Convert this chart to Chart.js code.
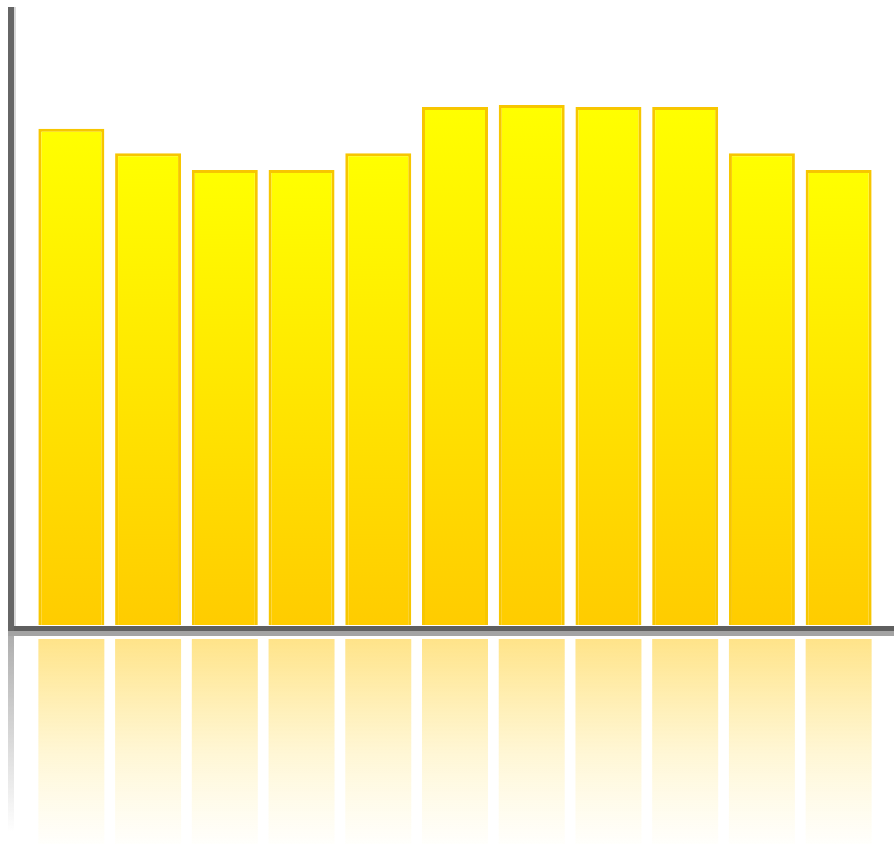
<!DOCTYPE html>
<html>
<head>
<meta charset="utf-8">
<script src="https://cdn.jsdelivr.net/npm/chart.js@4/dist/chart.umd.min.js"></script>
<style>
  html, body { margin: 0; padding: 0; background: #fff; }
  #wrap { width: 894px; height: 844px; }
</style>
</head>
<body>
<div id="wrap"><canvas id="barChart" width="894" height="844"></canvas></div>
<script>
const labels = ['1', '2', '3', '4', '5', '6', '7', '8', '9', '10', '11'];
const values = [79.4, 75.5, 72.8, 72.8, 75.5, 82.9, 83.2, 82.9, 82.9, 75.5, 72.8];
const yMin = 0;
const yMax = 100;

// yellow fill, bright at the top of each bar, gold at the base
function barFill(context) {
  const chart = context.chart;
  const area = chart.chartArea;
  if (!area || context.parsed === undefined) return '#ffe000';
  const top = chart.scales.y.getPixelForValue(context.parsed.y);
  const g = chart.ctx.createLinearGradient(0, top, 0, area.bottom);
  g.addColorStop(0, '#ffff00');
  g.addColorStop(1, '#ffcc00');
  return g;
}

// axis lines plus the mirrored fade under the baseline
const floorPlugin = {
  id: 'floor',
  beforeDatasetsDraw(chart) {
    const ctx = chart.ctx;
    const area = chart.chartArea;
    const axisX = 8;
    const base = area.bottom;
    ctx.save();
    // y axis reflection
    let g = ctx.createLinearGradient(0, base + 11, 0, chart.height - 12);
    g.addColorStop(0, 'rgba(120,120,120,0.6)');
    g.addColorStop(1, 'rgba(120,120,120,0)');
    ctx.fillStyle = g;
    ctx.fillRect(axisX, base + 11, 6, chart.height - base - 23);
    ctx.restore();
  },
  afterDatasetsDraw(chart) {
    const ctx = chart.ctx;
    const area = chart.chartArea;
    const base = area.bottom;
    const axisX = 8;
    ctx.save();
    // reflected bars
    const meta = chart.getDatasetMeta(0);
    meta.data.forEach(bar => {
      const p = bar.getProps(['x', 'width'], true);
      const top = base + 14;
      const g = ctx.createLinearGradient(0, top, 0, chart.height);
      g.addColorStop(0, 'rgba(255,205,40,0.55)');
      g.addColorStop(0.55, 'rgba(255,215,60,0.22)');
      g.addColorStop(1, 'rgba(255,225,80,0.02)');
      ctx.fillStyle = g;
      ctx.fillRect(p.x - p.width / 2, top, p.width, chart.height - top);
    });
    // x axis with its lighter shadow
    ctx.fillStyle = '#a3a3a3';
    ctx.fillRect(axisX, base + 6, chart.width - axisX, 5);
    ctx.fillStyle = '#5f5f5f';
    ctx.fillRect(axisX, base + 1, chart.width - axisX, 5);
    // y axis
    ctx.fillStyle = '#d8d8d8';
    ctx.fillRect(axisX + 6, 7, 2, base - 6);
    ctx.fillStyle = '#666666';
    ctx.fillRect(axisX, 7, 6, base - 1);
    ctx.restore();
  }
};

new Chart(document.getElementById('barChart'), {
  type: 'bar',
  data: {
    labels: labels,
    datasets: [{
      data: values,
      backgroundColor: barFill,
      borderColor: '#f7c600',
      borderWidth: 3,
      barPercentage: 0.86,
      categoryPercentage: 1
    }]
  },
  options: {
    responsive: false,
    animation: false,
    layout: { padding: { left: 33, right: 17, top: 0, bottom: 219 } },
    plugins: { legend: { display: false }, tooltip: { enabled: false } },
    scales: {
      x: { display: false },
      y: { display: false, min: yMin, max: yMax }
    }
  },
  plugins: [floorPlugin]
});
</script>
</body>
</html>
